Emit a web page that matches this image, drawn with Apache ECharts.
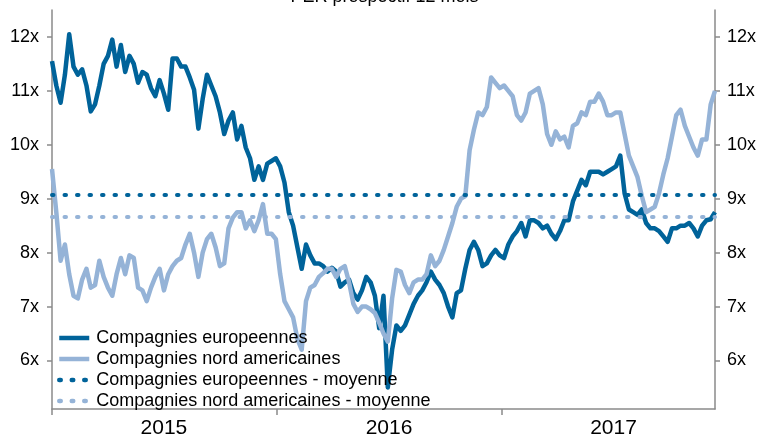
<!DOCTYPE html>
<html>
<head>
<meta charset="utf-8">
<script src="https://cdn.jsdelivr.net/npm/echarts@6/dist/echarts.min.js"></script>
<style>
html,body{margin:0;padding:0;background:#fff;}
#chart{width:769px;height:437px;}
</style>
</head>
<body>
<div id="chart"></div>
<script>
// Weekly observations starting 2015-01-01 (x = days since start)
const startDate = '2015-01-01';
const stepDays = 7;
const seriesNames = ['Compagnies europeennes', 'Compagnies nord americaines',
  'Compagnies europeennes - moyenne', 'Compagnies nord americaines - moyenne'];
const europe = [
  11.55,11.1,10.78,11.3,12.05,11.45,11.3,11.4,11.1,10.62,
  10.75,11.1,11.5,11.65,11.95,11.45,11.85,11.35,11.65,11.5,
  11.15,11.35,11.3,11.05,10.9,11.2,10.95,10.65,11.6,11.6,
  11.45,11.45,11.25,11.02,10.3,10.85,11.3,11.1,10.9,10.6,
  10.2,10.45,10.6,10.1,10.35,9.95,9.75,9.35,9.6,9.35,
  9.65,9.7,9.75,9.6,9.3,8.75,8.5,8.1,7.7,8.15,
  7.95,7.8,7.8,7.75,7.65,7.72,7.65,7.37,7.45,7.5,
  7.25,7.13,7.3,7.55,7.45,7.2,6.6,7.2,5.5,6.2,
  6.65,6.55,6.65,6.85,7.05,7.2,7.3,7.45,7.65,7.5,
  7.4,7.25,7.0,6.8,7.25,7.3,7.7,8.05,8.2,8.05,
  7.75,7.8,7.95,8.05,7.95,7.9,8.15,8.3,8.4,8.55,
  8.3,8.6,8.6,8.55,8.45,8.5,8.35,8.25,8.4,8.6,
  8.6,8.95,9.15,9.35,9.25,9.5,9.5,9.5,9.45,9.5,
  9.55,9.6,9.8,9.1,8.8,8.75,8.7,8.8,8.55,8.45,
  8.45,8.4,8.3,8.2,8.45,8.45,8.5,8.5,8.55,8.45,
  8.3,8.5,8.6,8.62,8.75
];
const northAmerica = [
  9.55,8.75,7.85,8.15,7.6,7.2,7.15,7.5,7.7,7.35,
  7.4,7.85,7.55,7.35,7.2,7.6,7.9,7.6,7.95,7.9,
  7.35,7.3,7.1,7.35,7.55,7.7,7.3,7.6,7.75,7.85,
  7.9,8.15,8.35,8.0,7.55,8.0,8.25,8.35,8.1,7.75,
  7.8,8.45,8.65,8.75,8.75,8.45,8.6,8.4,8.6,8.9,
  8.35,8.35,8.25,7.6,7.1,6.95,6.8,6.4,6.2,7.1,
  7.35,7.4,7.55,7.62,7.7,7.7,7.55,7.7,7.75,7.45,
  7.05,6.9,7.0,7.0,6.95,6.88,6.7,6.5,6.35,7.15,
  7.68,7.65,7.4,7.25,7.45,7.5,7.5,7.6,7.95,7.75,
  7.85,8.05,8.3,8.55,8.85,9.0,9.05,9.9,10.28,10.6,
  10.55,10.7,11.25,11.15,11.05,11.1,11.0,10.9,10.55,10.45,
  10.6,10.95,11.0,11.05,10.75,10.2,10.0,10.25,10.1,10.15,
  9.95,10.35,10.4,10.6,10.55,10.8,10.8,10.95,10.8,10.55,
  10.55,10.6,10.6,10.2,9.8,9.6,9.4,9.05,8.75,8.8,
  8.85,9.1,9.45,9.75,10.15,10.55,10.65,10.35,10.15,9.95,
  9.8,10.1,10.1,10.75,11.0
];
const europeMean = 9.07;
const northAmericaMean = 8.66;
const yearLabels = ['2015', '2016', '2017'];
const yearStartDays = [0, 365, 731];
const yearMidDays = [182, 548, 913];
const yTickValues = [6, 7, 8, 9, 10, 11, 12];

const totalDays = (europe.length - 1) * stepDays;
const toPairs = arr => arr.map((v, i) => [i * stepDays, v]);

const darkBlue = '#00639A';
const lightBlue = '#95B3D7';
const font = 'Liberation Sans, Arial, sans-serif';
const axisGray = '#8a8a8a';

const yAxisBase = {
  type: 'value', min: 5.1, max: 12.5,
  splitLine: { show: false },
  axisLine: { show: true, lineStyle: { color: axisGray, width: 1.5 } },
  axisTick: { show: true, length: 5, lineStyle: { color: axisGray, width: 1.5 }, customValues: yTickValues },
  axisLabel: { fontSize: 18, color: '#000', fontFamily: font, customValues: yTickValues, formatter: v => v + 'x' }
};

const chart = echarts.init(document.getElementById('chart'), null, { renderer: 'canvas' });
chart.setOption({
  animation: false,
  backgroundColor: '#fff',
  title: {
    text: 'PER prospectif 12 mois', left: 'center', top: -17,
    textStyle: { fontSize: 18, fontWeight: 'normal', color: '#000', fontFamily: font }
  },
  grid: { left: 52, right: 54, top: 10, bottom: 28, containLabel: false, outerBoundsMode: 'none' },
  legend: {
    orient: 'vertical', left: 52, top: 324,
    itemWidth: 30, itemHeight: 14, itemGap: 3,
    data: seriesNames,
    itemStyle: { color: 'transparent', borderWidth: 0, opacity: 0 },
    lineStyle: { width: 4.5 },
    textStyle: { fontSize: 18, color: '#000', fontFamily: font, padding: [0, 0, 0, 2] }
  },
  xAxis: {
    type: 'value', min: 0, max: totalDays,
    splitLine: { show: false },
    axisLine: { lineStyle: { color: axisGray, width: 1.5 } },
    axisTick: { show: true, length: 6, lineStyle: { color: axisGray, width: 1.5 }, customValues: yearStartDays },
    axisLabel: {
      fontSize: 21, color: '#000', fontFamily: font, margin: 9,
      customValues: yearMidDays,
      formatter: v => yearLabels[yearMidDays.indexOf(v)] || ''
    }
  },
  yAxis: [
    Object.assign({}, yAxisBase, { position: 'left', axisLabel: Object.assign({}, yAxisBase.axisLabel, { margin: 13 }) }),
    Object.assign({}, yAxisBase, { position: 'right', axisLabel: Object.assign({}, yAxisBase.axisLabel, { margin: 12 }) })
  ],
  series: [
    {
      name: seriesNames[0], type: 'line', data: toPairs(europe), symbol: 'none',
      lineStyle: { color: darkBlue, width: 4.5, join: 'round' }, itemStyle: { color: darkBlue }
    },
    {
      name: seriesNames[1], type: 'line', data: toPairs(northAmerica), symbol: 'none',
      lineStyle: { color: lightBlue, width: 4.5, join: 'round' }, itemStyle: { color: lightBlue }
    },
    {
      name: seriesNames[2], type: 'line', data: [[0, europeMean], [totalDays, europeMean]], symbol: 'none',
      lineStyle: { color: darkBlue, width: 4, type: [1.5, 11], cap: 'round' }, itemStyle: { color: darkBlue }
    },
    {
      name: seriesNames[3], type: 'line', data: [[0, northAmericaMean], [totalDays, northAmericaMean]], symbol: 'none',
      lineStyle: { color: lightBlue, width: 4, type: [1.5, 11], cap: 'round' }, itemStyle: { color: lightBlue }
    }
  ]
});
</script>
</body>
</html>
